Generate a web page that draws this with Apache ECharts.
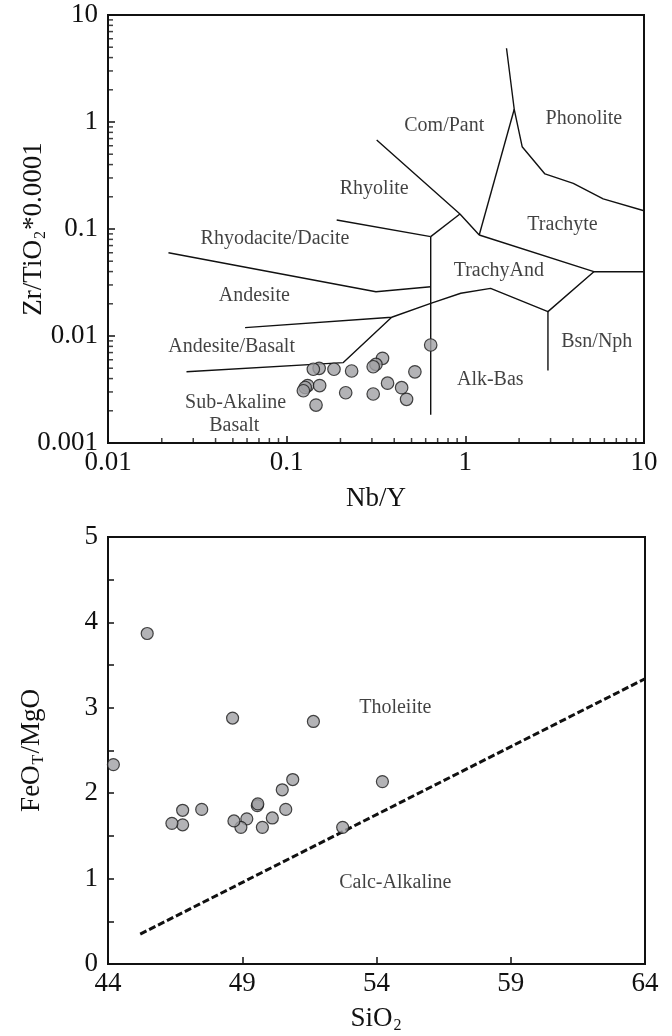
<!DOCTYPE html>
<html>
<head>
<meta charset="utf-8">
<script src="https://cdn.jsdelivr.net/npm/echarts@6.0.0/dist/echarts.min.js"></script>
<style>
  html, body { margin: 0; padding: 0; background: #fff; }
  #main { width: 672px; height: 1036px; }
</style>
</head>
<body>
<div id="main"></div>
<script>
// ---- top diagram: Zr/TiO2 vs Nb/Y (field boundaries) ----
const comPantLine = [[0.319, 0.679], [0.933, 0.138], [1.196, 0.0879]]
const rhyoliteStub = [[0.933, 0.138], [0.64, 0.0848]]
const rhyoliteDaciteLine = [[0.1905, 0.1213], [0.64, 0.0848]]
const centralDivide = [[0.64, 0.0848], [0.64, 0.00184]]
const daciteAndesiteLine = [[0.0218, 0.060], [0.316, 0.0259], [0.64, 0.0289]]
const andesiteBasaltUpper = [[0.0585, 0.01197], [0.387, 0.01496], [0.64, 0.0202], [0.943, 0.0251], [1.385, 0.0279], [2.90, 0.0169], [5.24, 0.0399]]
const andesiteBasaltLower = [[0.0275, 0.00463], [0.2075, 0.00564], [0.387, 0.01496]]
const bsnNphLine = [[2.90, 0.0169], [2.90, 0.00476]]
const trachyteLine = [[1.196, 0.0879], [5.24, 0.0399], [10, 0.0399]]
const comPantTrachyte = [[1.196, 0.0879], [1.878, 1.315]]
const phonoliteLine = [[1.70, 4.89], [1.878, 1.315], [2.08, 0.588], [2.79, 0.327], [4.02, 0.267], [5.91, 0.191], [10, 0.148]]

const fieldLabels = [
  [0.762, 0.918, 'Com/Pant'],
  [4.61, 1.083, 'Phonolite'],
  [0.309, 0.24, 'Rhyolite'],
  [3.50, 0.109, 'Trachyte'],
  [0.086, 0.0819, 'Rhyodacite/Dacite'],
  [1.54, 0.0407, 'TrachyAnd'],
  [0.0659, 0.0237, 'Andesite'],
  [5.44, 0.00889, 'Bsn/Nph'],
  [0.0492, 0.00794, 'Andesite/Basalt'],
  [1.379, 0.0039, 'Alk-Bas'],
  [0.0518, 0.00236, 'Sub-Akaline'],
  [0.0509, 0.00145, 'Basalt']
]

// samples
const nbY = [0.640, 0.344, 0.316, 0.305, 0.231, 0.522, 0.184, 0.152, 0.141, 0.131, 0.127, 0.124, 0.153, 0.214, 0.305, 0.367, 0.440, 0.469, 0.146]
const zrTi = [0.00824, 0.00619, 0.00543, 0.00516, 0.00471, 0.00463, 0.00489, 0.00499, 0.00489, 0.00344, 0.0033, 0.00308, 0.00344, 0.00295, 0.00287, 0.00362, 0.00329, 0.00256, 0.00226]

const xDecades = [0.01, 0.1, 1]
const yDecades = [0.001, 0.01, 0.1, 1]
const minorSteps = [2, 3, 4, 5, 6, 7, 8, 9]

// ---- bottom diagram: FeOT/MgO vs SiO2 ----
const sio2 = [45.46, 44.2, 48.64, 51.65, 54.22, 50.88, 50.49, 50.62, 50.12, 49.75, 49.56, 49.58, 49.17, 48.95, 48.69, 47.49, 46.78, 46.78, 46.38, 52.74]
const feoMgo = [3.87, 2.335, 2.88, 2.84, 2.136, 2.16, 2.04, 1.81, 1.71, 1.60, 1.855, 1.875, 1.70, 1.60, 1.675, 1.81, 1.80, 1.63, 1.647, 1.60]
const thDivider = [[45.2, 0.35], [64, 3.34]]
const seriesLabels = [[54.7, 3.0, 'Tholeiite'], [54.7, 0.95, 'Calc-Alkaline']]

const serif = "'Liberation Serif', 'Times New Roman', serif"
const ink = '#111'

function zip(xs, ys) {
  return xs.map((x, i) => [x, ys[i]])
}

let box = document.querySelector('#main')
let myChart = echarts.init(box)

function boundary(pts) {
  return {
    type: 'line', xAxisIndex: 0, yAxisIndex: 0, data: pts, symbol: 'none',
    lineStyle: { color: ink, width: 1.4 }, silent: true, animation: false, z: 3
  }
}

// log minor ticks (2..9 in each decade), drawn as short marks inside the frame
let xMinor = []
xDecades.forEach(d => minorSteps.forEach(m => xMinor.push([d * m, 0.001])))
let yMinor = []
yDecades.forEach(d => minorSteps.forEach(m => yMinor.push([0.01, d * m])))

function logLabel(v) {
  return String(Number(v.toPrecision(1)))
}

let axisText = { color: ink, fontFamily: serif, fontSize: 27 }
let nameRich = {
  t: { fontFamily: serif, fontSize: 27, color: ink, lineHeight: 30 },
  s: { fontFamily: serif, fontSize: 16, color: ink, lineHeight: 30, verticalAlign: 'bottom', padding: [0, 1, 0, 1] }
}

let option = {
  backgroundColor: '#fff',
  animation: false,
  grid: [
    { left: 108, top: 15, width: 536, height: 428, show: true, borderColor: ink, borderWidth: 2, backgroundColor: 'transparent', outerBoundsMode: 'none', containLabel: false },
    { left: 108, top: 537, width: 537, height: 427, show: true, borderColor: ink, borderWidth: 2, backgroundColor: 'transparent', outerBoundsMode: 'none', containLabel: false }
  ],
  xAxis: [
    {
      gridIndex: 0, type: 'log', min: 0.01, max: 10, logBase: 10,
      name: 'Nb/Y', nameLocation: 'middle', nameGap: 42, nameMoveOverlap: false,
      nameTextStyle: { fontFamily: serif, fontSize: 27, color: ink },
      axisLine: { lineStyle: { color: ink, width: 2 } },
      axisTick: { inside: true, length: 7, lineStyle: { color: ink, width: 1.5 } },
      axisLabel: Object.assign({ margin: 6, formatter: logLabel }, axisText),
      splitLine: { show: false }
    },
    {
      gridIndex: 1, type: 'value', min: 44, max: 64, interval: 5,
      name: '{t|SiO}{s|2}', nameLocation: 'middle', nameGap: 40, nameMoveOverlap: false,
      nameTextStyle: { rich: nameRich },
      axisLine: { lineStyle: { color: ink, width: 2 } },
      axisTick: { inside: true, length: 7, lineStyle: { color: ink, width: 1.5 } },
      axisLabel: Object.assign({ margin: 6 }, axisText),
      splitLine: { show: false }
    }
  ],
  yAxis: [
    {
      gridIndex: 0, type: 'log', min: 0.001, max: 10, logBase: 10,
      name: '{t|Zr/TiO}{s|2}{t|*0.0001}', nameLocation: 'middle', nameGap: 59, nameRotate: 90,
      nameMoveOverlap: false,
      nameTextStyle: { rich: nameRich },
      axisLine: { lineStyle: { color: ink, width: 2 } },
      axisTick: { inside: true, length: 7, lineStyle: { color: ink, width: 1.5 } },
      axisLabel: Object.assign({ margin: 10, formatter: logLabel }, axisText),
      splitLine: { show: false }
    },
    {
      gridIndex: 1, type: 'value', min: 0, max: 5, interval: 0.5,
      name: '{t|FeO}{s|T}{t|/MgO}', nameLocation: 'middle', nameGap: 61, nameRotate: 90,
      nameMoveOverlap: false,
      nameTextStyle: { rich: nameRich },
      axisLine: { lineStyle: { color: ink, width: 2 } },
      axisTick: { inside: true, length: 6, lineStyle: { color: ink, width: 1.5 } },
      axisLabel: Object.assign({
        margin: 10,
        formatter: v => (Math.abs(v - Math.round(v)) < 1e-9 ? String(Math.round(v)) : '')
      }, axisText),
      splitLine: { show: false }
    }
  ],
  series: [
    boundary(comPantLine),
    boundary(rhyoliteStub),
    boundary(rhyoliteDaciteLine),
    boundary(centralDivide),
    boundary(daciteAndesiteLine),
    boundary(andesiteBasaltUpper),
    boundary(andesiteBasaltLower),
    boundary(bsnNphLine),
    boundary(trachyteLine),
    boundary(comPantTrachyte),
    boundary(phonoliteLine),
    {
      type: 'scatter', xAxisIndex: 0, yAxisIndex: 0, data: xMinor, silent: true,
      symbol: 'rect', symbolSize: [1.5, 5], symbolOffset: [0, -2.5],
      itemStyle: { color: ink }, clip: false
    },
    {
      type: 'scatter', xAxisIndex: 0, yAxisIndex: 0, data: yMinor, silent: true,
      symbol: 'rect', symbolSize: [5, 1.5], symbolOffset: [2.5, 0],
      itemStyle: { color: ink }, clip: false
    },
    {
      type: 'scatter', xAxisIndex: 0, yAxisIndex: 0, silent: true,
      data: fieldLabels, symbolSize: 0,
      label: {
        show: true, position: 'inside', formatter: p => p.data[2],
        fontFamily: serif, fontSize: 20, color: ink
      }
    },
    {
      type: 'scatter', xAxisIndex: 0, yAxisIndex: 0, data: zip(nbY, zrTi),
      symbol: 'circle', symbolSize: 12.5, z: 5,
      itemStyle: { color: '#a0a0a4', borderColor: '#1a1a1a', borderWidth: 1.2 }
    },
    // bottom chart
    {
      type: 'line', xAxisIndex: 1, yAxisIndex: 1, data: thDivider, symbol: 'none', silent: true,
      lineStyle: { color: ink, width: 3, type: [7, 3] }
    },
    {
      type: 'scatter', xAxisIndex: 1, yAxisIndex: 1, silent: true,
      data: seriesLabels, symbolSize: 0,
      label: {
        show: true, position: 'inside', formatter: p => p.data[2],
        fontFamily: serif, fontSize: 20, color: ink
      }
    },
    {
      type: 'scatter', xAxisIndex: 1, yAxisIndex: 1, data: zip(sio2, feoMgo),
      symbol: 'circle', symbolSize: 12, z: 5, clip: false,
      itemStyle: { color: '#a0a0a4', borderColor: '#1a1a1a', borderWidth: 1.2 }
    }
  ]
}
myChart.setOption(option)
</script>
</body>
</html>
